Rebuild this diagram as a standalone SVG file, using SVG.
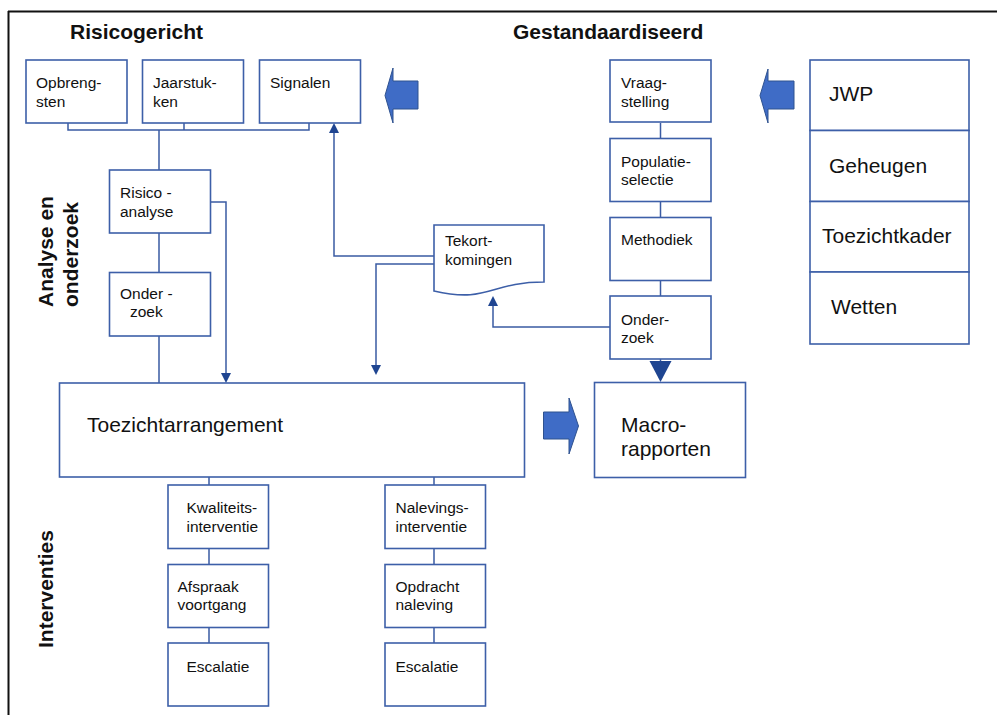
<svg xmlns="http://www.w3.org/2000/svg" width="997" height="715" viewBox="0 0 997 715">
<style>
  .box { fill: #ffffff; stroke: #3D5FA8; stroke-width: 1.6; }
  .conn { fill: none; stroke: #3A5BA3; stroke-width: 1.5; }
  .head { fill: #1F4591; stroke: none; }
  .block { fill: #3F6CC6; stroke: #2F528F; stroke-width: 1; }
  .t { font-family: "Liberation Sans", Arial, sans-serif; font-size: 15.5px; fill: #111111; }
  .tl { font-family: "Liberation Sans", Arial, sans-serif; font-size: 21px; fill: #111111; }
  .title { font-family: "Liberation Sans", Arial, sans-serif; font-size: 21px; font-weight: bold; fill: #111111; }
</style>
<rect x="0" y="0" width="997" height="715" fill="#ffffff"/>
<g id="frame">
  <line x1="8" y1="11.5" x2="997" y2="11.5" stroke="#111111" stroke-width="2"/>
  <line x1="8.5" y1="11" x2="8.5" y2="715" stroke="#111111" stroke-width="2"/>
</g>
<g id="labels">
  <text class="title" x="70" y="39">Risicogericht</text>
  <text class="title" x="513" y="39">Gestandaardiseerd</text>
  <text class="title" transform="translate(53,307) rotate(-90)">Analyse en</text>
  <text class="title" transform="translate(78,307) rotate(-90)">onderzoek</text>
  <text class="title" transform="translate(53,648) rotate(-90)">Interventies</text>
</g>
<g id="connectors">
  <path class="conn" d="M68,123 V130 H309 V123 M184,123 V130 M159,130 V170"/>
  <path class="conn" d="M159,233 V272 M159,336 V383"/>
  <path class="conn" d="M210,202 H226 V373"/>
  <polygon class="head" points="221,373 231,373 226,383"/>
  <path class="conn" d="M434,256 H334 V133"/>
  <polygon class="head" points="329,133 339,133 334,123"/>
  <path class="conn" d="M434,264 H376 V365"/>
  <polygon class="head" points="371,365 381,365 376,375"/>
  <path class="conn" d="M610,327 H493 V306"/>
  <polygon class="head" points="488,306 498,306 493,296"/>
  <path class="conn" d="M660.5,123 V138 M660.5,202 V217 M660.5,281 V296 M660.5,359 V362"/>
  <polygon class="head" points="649.5,361 671.5,361 660.5,382"/>
  <path class="conn" d="M209,477 V485 M209,548 V564 M209,627 V643"/>
  <path class="conn" d="M434,477 V485 M434,548 V564 M434,627 V643"/>
</g>
<g id="block-arrows">
  <polygon class="block" points="385,95.5 393,68 393,81 418,81 418,109 393,109 393,123"/>
  <polygon class="block" points="760,95.5 768,69 768,81 794,81 794,109 768,109 768,123"/>
  <polygon class="block" points="543.5,412 569,412 569,398 578.5,426 569,454 569,439 543.5,439"/>
</g>
<g id="opbrengsten">
  <rect class="box" x="26" y="60" width="101" height="63"/>
  <text class="t" x="36" y="88">Opbreng-</text>
  <text class="t" x="36" y="107">sten</text>
</g>
<g id="jaarstukken">
  <rect class="box" x="142.5" y="60" width="101" height="63"/>
  <text class="t" x="153" y="88">Jaarstuk-</text>
  <text class="t" x="153" y="107">ken</text>
</g>
<g id="signalen">
  <rect class="box" x="259.5" y="60" width="101" height="63"/>
  <text class="t" x="270" y="88">Signalen</text>
</g>
<g id="risicoanalyse">
  <rect class="box" x="109.5" y="170" width="101" height="63"/>
  <text class="t" x="120" y="198">Risico  -</text>
  <text class="t" x="120" y="217">analyse</text>
</g>
<g id="onderzoek-links">
  <rect class="box" x="109.5" y="272.5" width="101" height="63.5"/>
  <text class="t" x="120" y="299">Onder -</text>
  <text class="t" x="130" y="316.5">zoek</text>
</g>
<g id="tekortkomingen">
  <path class="box" d="M434,225 H544 V282 C489,282 489,303.5 434,291 Z"/>
  <text class="t" x="445" y="246">Tekort-</text>
  <text class="t" x="445" y="265">komingen</text>
</g>
<g id="vraagstelling">
  <rect class="box" x="610" y="60" width="101" height="62"/>
  <text class="t" x="621" y="88">Vraag-</text>
  <text class="t" x="621" y="107">stelling</text>
</g>
<g id="populatieselectie">
  <rect class="box" x="610" y="138.5" width="101" height="63"/>
  <text class="t" x="621" y="167">Populatie-</text>
  <text class="t" x="621" y="185">selectie</text>
</g>
<g id="methodiek">
  <rect class="box" x="610" y="217.5" width="101" height="63"/>
  <text class="t" x="621" y="245">Methodiek</text>
</g>
<g id="onderzoek-rechts">
  <rect class="box" x="610" y="296" width="101" height="63"/>
  <text class="t" x="621" y="325">Onder-</text>
  <text class="t" x="621" y="343">zoek</text>
</g>
<g id="bronnen">
  <rect class="box" x="810" y="60" width="159" height="70.5"/>
  <rect class="box" x="810" y="130.5" width="159" height="71"/>
  <rect class="box" x="810" y="201.5" width="159" height="70.5"/>
  <rect class="box" x="810" y="272" width="159" height="72"/>
  <text class="tl" x="829" y="101">JWP</text>
  <text class="tl" x="829" y="173">Geheugen</text>
  <text class="tl" x="822" y="243">Toezichtkader</text>
  <text class="tl" x="831" y="314">Wetten</text>
</g>
<g id="toezichtarrangement">
  <rect class="box" x="59.5" y="383" width="465" height="94"/>
  <text class="tl" x="87" y="432">Toezichtarrangement</text>
</g>
<g id="macrorapporten">
  <rect class="box" x="594.5" y="382.5" width="151" height="95"/>
  <text class="tl" x="621" y="432">Macro-</text>
  <text class="tl" x="621" y="456">rapporten</text>
</g>
<g id="kwaliteitsinterventie">
  <rect class="box" x="168" y="485" width="100.5" height="63.5"/>
  <text class="t" x="186.5" y="513">Kwaliteits-</text>
  <text class="t" x="186.5" y="532">interventie</text>
</g>
<g id="afspraak">
  <rect class="box" x="168" y="564.5" width="100.5" height="63"/>
  <text class="t" x="177.5" y="592">Afspraak</text>
  <text class="t" x="177.5" y="610">voortgang</text>
</g>
<g id="escalatie-1">
  <rect class="box" x="168" y="643" width="100.5" height="63"/>
  <text class="t" x="186.5" y="672">Escalatie</text>
</g>
<g id="nalevingsinterventie">
  <rect class="box" x="385" y="485" width="100.5" height="63.5"/>
  <text class="t" x="395.5" y="513">Nalevings-</text>
  <text class="t" x="395.5" y="532">interventie</text>
</g>
<g id="opdracht">
  <rect class="box" x="385" y="564.5" width="100.5" height="63"/>
  <text class="t" x="395.5" y="592">Opdracht</text>
  <text class="t" x="395.5" y="610">naleving</text>
</g>
<g id="escalatie-2">
  <rect class="box" x="385" y="643" width="100.5" height="63"/>
  <text class="t" x="395.5" y="672">Escalatie</text>
</g>
</svg>
